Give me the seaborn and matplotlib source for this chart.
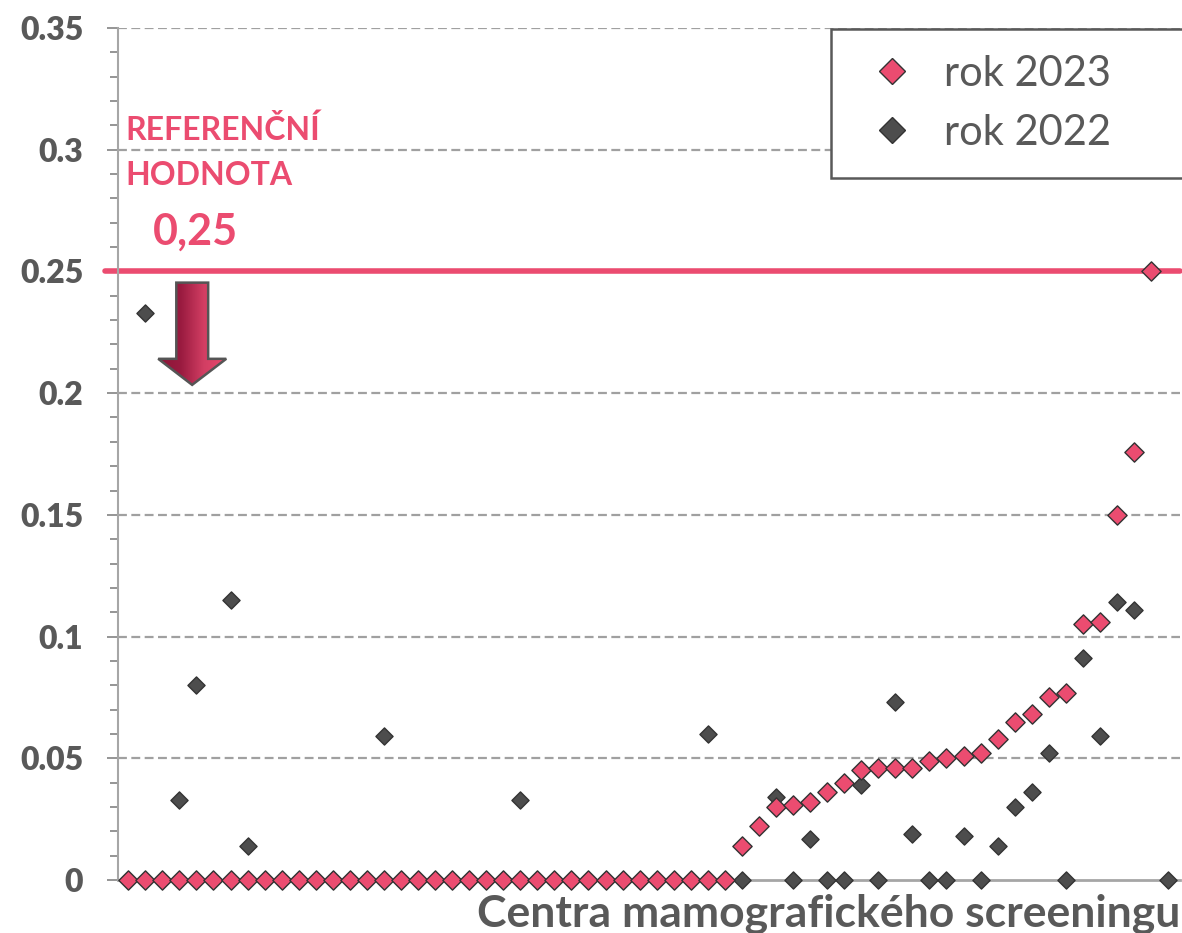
import numpy as np
import pandas as pd
import matplotlib
matplotlib.use('Agg')
import matplotlib.pyplot as plt
import seaborn as sns
from matplotlib.lines import Line2D
from matplotlib.patches import Polygon
from matplotlib.colors import LinearSegmentedColormap
from matplotlib.ticker import MultipleLocator, FuncFormatter

# Data: centres sorted by the 2023 value
centra = list(range(1, 63))
rok_2023 = [0, 0, 0, 0, 0, 0, 0, 0, 0, 0,
            0, 0, 0, 0, 0, 0, 0, 0, 0, 0,
            0, 0, 0, 0, 0, 0, 0, 0, 0, 0,
            0, 0, 0, 0, 0, 0, 0.014, 0.022, 0.030, 0.031,
            0.032, 0.036, 0.040, 0.045, 0.046, 0.046, 0.046, 0.049, 0.050, 0.051,
            0.052, 0.058, 0.065, 0.068, 0.075, 0.077, 0.105, 0.106, 0.150, 0.176,
            0.250, np.nan]
rok_2022 = [0, 0.233, 0, 0.033, 0.080, 0, 0.115, 0.014, 0, 0,
            0, 0, 0, 0, 0, 0.059, 0, 0, 0, 0,
            0, 0, 0, 0.033, 0, 0, 0, 0, 0, 0,
            0, 0, 0, 0, 0.060, 0, 0, np.nan, 0.034, 0,
            0.017, 0, 0, 0.039, 0, 0.073, 0.019, 0, 0, 0.018,
            0, 0.014, 0.030, 0.036, 0.052, 0, 0.091, 0.059, 0.114, 0.111,
            np.nan, 0]
referencni_hodnota = 0.25

df = pd.DataFrame({'Centrum': centra, 'rok 2023': rok_2023, 'rok 2022': rok_2022})

PINK = '#EB4C70'
DARK = '#4D4D4D'
GREY_TXT = '#595959'

sns.set_style('white')
plt.rcParams['font.family'] = ['Lato', 'DejaVu Sans']

fig = plt.figure(figsize=(11.82, 9.33), dpi=100)
ax = fig.add_axes([118 / 1182, 1 - 880 / 933, (1180 - 118) / 1182, (880 - 28) / 933])

# gridlines
ax.set_ylim(0, 0.35)
ax.yaxis.set_major_locator(MultipleLocator(0.05))
ax.yaxis.set_minor_locator(MultipleLocator(0.01))
for v in np.arange(0.05, 0.36, 0.05):
    ax.axhline(v, color='#A0A0A0', lw=1.6, ls=(0, (4, 2)), zorder=0)

# points
sns.scatterplot(data=df, x='Centrum', y='rok 2022', ax=ax, marker='D', s=76,
                color=DARK, edgecolor='#333333', linewidth=1.0, clip_on=False, zorder=3)
sns.scatterplot(data=df, x='Centrum', y='rok 2023', ax=ax, marker='D', s=96,
                color=PINK, edgecolor='#333333', linewidth=1.0, clip_on=False, zorder=4)

# reference line
ax.axhline(referencni_hodnota, xmin=-0.012, xmax=1, color=PINK, lw=4, clip_on=False, zorder=2)

# arrow with gradient
arrow_pts = [(3.82, 0.2454), (5.69, 0.2454), (5.69, 0.2141), (6.75, 0.2141),
             (4.75, 0.2034), (2.76, 0.2141), (3.82, 0.2141)]
arrow = Polygon(arrow_pts, closed=True, facecolor='none', edgecolor='#555555', lw=1.8, zorder=6)
ax.add_patch(arrow)
grad_cmap = LinearSegmentedColormap.from_list('arr', ['#8C1538', '#9A1B40', '#D23E63', '#E8496D'])
img = ax.imshow(np.linspace(0, 1, 200).reshape(1, -1), cmap=grad_cmap, aspect='auto',
                extent=(2.76, 6.75, 0.2034, 0.2454), zorder=5)
img.set_clip_path(arrow)
ax.set_xlim(0.4, 62.7)
ax.set_ylim(0, 0.35)

# axes styling
sns.despine(ax=ax, top=True, right=True)
ax.spines['left'].set_color('#A6A6A6')
ax.spines['left'].set_linewidth(1.5)
ax.spines['bottom'].set_color('#A6A6A6')
ax.spines['bottom'].set_linewidth(2)
ax.set_xticks([])
ax.tick_params(axis='y', which='both', direction='out', color='#8C8C8C', width=1.3, left=True)
ax.tick_params(axis='y', which='major', length=8, pad=17, labelsize=23, labelcolor=GREY_TXT)
ax.tick_params(axis='y', which='minor', length=6)
ax.yaxis.set_major_formatter(FuncFormatter(lambda v, p: '%g' % round(v, 2)))
for lab in ax.get_yticklabels():
    lab.set_fontweight('heavy')
ax.set_xlabel('')
ax.set_ylabel('')

# x label
fig.text(1180 / 1182, 1 - 926 / 933, 'Centra mamografického screeningu', ha='right', va='baseline',
         fontsize=32, fontweight='bold', color=GREY_TXT)

# reference annotation
fig.text(125 / 1182, 1 - 140 / 933, 'REFERENČNÍ', ha='left', va='baseline',
         fontsize=23, fontweight='bold', color=PINK)
fig.text(125 / 1182, 1 - 185 / 933, 'HODNOTA', ha='left', va='baseline',
         fontsize=23, fontweight='bold', color=PINK)
fig.text(153 / 1182, 1 - 245 / 933, '0,25', ha='left', va='baseline',
         fontsize=31, fontweight='bold', color=PINK)

# legend (box runs off the right edge as in the original)
handles = [Line2D([], [], marker='D', ls='', ms=13.5, mfc=PINK, mec='#333333', mew=1.0),
           Line2D([], [], marker='D', ls='', ms=13.5, mfc=DARK, mec='#333333', mew=1.0)]
leg = fig.legend(handles, ['rok 2023', 'rok 2022'], loc='upper left',
                 bbox_to_anchor=(831 / 1182, 1 - 29 / 933, 400 / 1182, 0), mode='expand',
                 fontsize=30, frameon=True, fancybox=False, framealpha=1, borderpad=0.62,
                 labelspacing=0.5, handletextpad=0.4, handlelength=1.7, borderaxespad=0)
leg.get_frame().set_edgecolor(GREY_TXT)
leg.get_frame().set_linewidth(1.8)
for t in leg.get_texts():
    t.set_color(GREY_TXT)

fig.savefig('out.png', dpi=100)
